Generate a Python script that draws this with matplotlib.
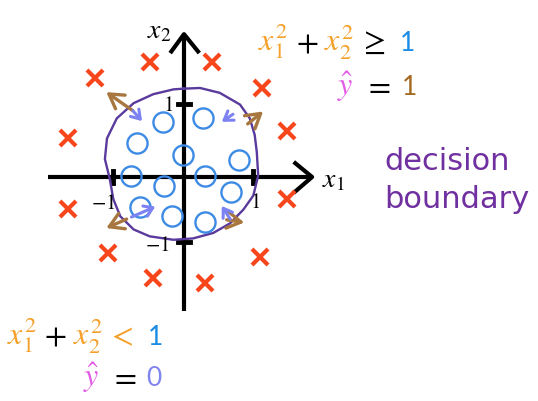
import matplotlib.pyplot as plt
from matplotlib.transforms import offset_copy

plt.rcParams['mathtext.fontset'] = 'stix'

# class 1 (crosses) and class 0 (circles), in (x1, x2) units
cross_x1 = [-0.49, 0.40, -1.27, 1.11, -1.66, 1.47, -1.66, 1.47, -1.09, 1.09, -0.44, 0.30]
cross_x2 = [1.66, 1.66, 1.44, 1.29, 0.56, 0.66, -0.47, -0.32, -1.10, -1.16, -1.47, -1.54]
circ_x1 = [-0.30, 0.27, -0.67, -0.01, 0.79, -0.76, 0.30, -0.29, 0.67, -0.63, -0.17, 0.30]
circ_x2 = [0.79, 0.85, 0.50, 0.32, 0.24, 0.01, 0.01, -0.13, -0.22, -0.44, -0.57, -0.65]

# hand drawn decision boundary
bound_x1 = [-0.01, 0.23, 0.51, 0.80, 0.94, 1.01, 1.04, 1.06, 0.99, 0.85, 0.66, 0.42, 0.13,
            -0.15, -0.49, -0.72, -0.91, -1.01, -1.06, -1.13, -1.10, -0.96, -0.72, -0.44, -0.15, -0.01]
bound_x2 = [1.28, 1.29, 1.22, 1.05, 0.85, 0.61, 0.36, 0.02, -0.27, -0.47, -0.67, -0.81, -0.89,
            -0.91, -0.86, -0.76, -0.57, -0.32, -0.03, 0.26, 0.56, 0.85, 1.07, 1.20, 1.27, 1.28]

# arrows: (tail, head)
out_arrows = [((-0.73, 0.96), (-1.11, 1.23)), ((0.91, 0.77), (1.13, 0.95)),
              ((-0.82, -0.61), (-1.11, -0.74)), ((0.61, -0.62), (0.86, -0.66))]
in_arrows = [((-0.73, 0.96), (-0.60, 0.81)), ((0.70, 0.91), (0.54, 0.80)),
             ((-0.75, -0.58), (-0.41, -0.43)), ((0.66, -0.61), (0.54, -0.42))]

tick_x = [-1.01, 0.99]
tick_y = [1.06, -0.94]

orange = '#f5a02a'
blue = '#1a8ce6'
magenta = '#e25ce6'
brown = '#a2691f'
lav = '#7f84ee'


def colored_text(ax, x, y, parts):
    # parts: (text, colour, family, size, gap after in px)
    t = ax.transData
    r = ax.figure.canvas.get_renderer()
    for s, c, fam, size, gap in parts:
        txt = ax.text(x, y, s, color=c, fontsize=size, transform=t, va='baseline', family=fam)
        ex = txt.get_window_extent(renderer=r)
        t = offset_copy(txt.get_transform(), x=ex.width + gap, units='dots')


fig = plt.figure(figsize=(5.38, 4.02), dpi=100)
ax = fig.add_axes([0, 0, 1, 1])
ax.set_xlim(-184 / 70, (538 - 184) / 70)
ax.set_ylim((178 - 402) / 69, 178 / 69)
ax.axis('off')

# axes with open arrow heads
ax.plot([-1.94, 1.83], [0, 0], color='black', lw=3, solid_capstyle='butt')
ax.plot([0, 0], [-1.94, 2.07], color='black', lw=3, solid_capstyle='butt')
ax.plot([1.59, 1.83, 1.59], [0.20, 0, -0.21], color='black', lw=3)
ax.plot([-0.18, 0, 0.20], [1.82, 2.07, 1.82], color='black', lw=3)
for tx in tick_x:
    ax.plot([tx, tx], [-0.09, 0.09], color='black', lw=3.5)
for ty in tick_y:
    ax.plot([-0.09, 0.09], [ty, ty], color='black', lw=3.5)

ax.text(-0.16, 1.06, '$1$', fontsize=15, ha='right', va='center')
ax.text(-1.16, -0.36, '$-1$', fontsize=15, ha='center', va='center')
ax.text(1.01, -0.35, '$1$', fontsize=15, ha='center', va='center')
ax.text(-0.20, -0.97, '$-1$', fontsize=15, ha='right', va='center')
ax.text(-0.53, 2.03, '$x_2$', fontsize=20, va='baseline')
ax.text(1.97, -0.14, '$x_1$', fontsize=20, va='baseline')

ax.plot(bound_x1, bound_x2, color='#5a3a9c', lw=1.7)
ax.plot(cross_x1, cross_x2, 'x', color='#f7461c', ms=11, mew=3, ls='none')
ax.plot(circ_x1, circ_x2, 'o', mfc='none', mec='#3d8be4', ms=14.5, mew=1.7, ls='none')

for tail, head in out_arrows:
    ax.annotate('', xy=head, xytext=tail,
                arrowprops=dict(arrowstyle='->,head_length=1.0,head_width=0.6', color='#a8773f',
                                lw=2.4, shrinkA=0, shrinkB=0))
for tail, head in in_arrows:
    ax.annotate('', xy=head, xytext=tail,
                arrowprops=dict(arrowstyle='->,head_length=0.6,head_width=0.4', color='#7c82f2',
                                lw=2.2, shrinkA=0, shrinkB=0))

ax.text(2.86, 0.116, 'decision', color='#7030a0', fontsize=22, family='DejaVu Sans', va='baseline')
ax.text(2.86, -0.435, 'boundary', color='#7030a0', fontsize=22, family='DejaVu Sans', va='baseline')

colored_text(ax, 1.06, 1.84, [('$x_1^2$', orange, 'serif', 23, 8), ('$+$', 'black', 'serif', 23, 6),
                              ('$x_2^2$', orange, 'serif', 23, 5), ('$\\geq$', 'black', 'serif', 23, 14),
                              ('1', blue, 'Lato', 19, 0)])
colored_text(ax, 2.19, 1.20, [('$\\hat{y}$', magenta, 'serif', 23, 10), ('$=$', 'black', 'serif', 23, 11),
                              ('1', brown, 'Lato', 19, 0)])
colored_text(ax, -2.53, -2.42, [('$x_1^2$', orange, 'serif', 23, 8), ('$+$', 'black', 'serif', 23, 6),
                                ('$x_2^2$', orange, 'serif', 23, 5), ('$<$', orange, 'serif', 23, 14),
                                ('1', blue, 'Lato', 19, 0)])
colored_text(ax, -1.44, -3.01, [('$\\hat{y}$', magenta, 'serif', 23, 10), ('$=$', 'black', 'serif', 23, 10),
                                ('0', lav, 'Lato', 19, 0)])

fig.savefig('out.png', dpi=100)
